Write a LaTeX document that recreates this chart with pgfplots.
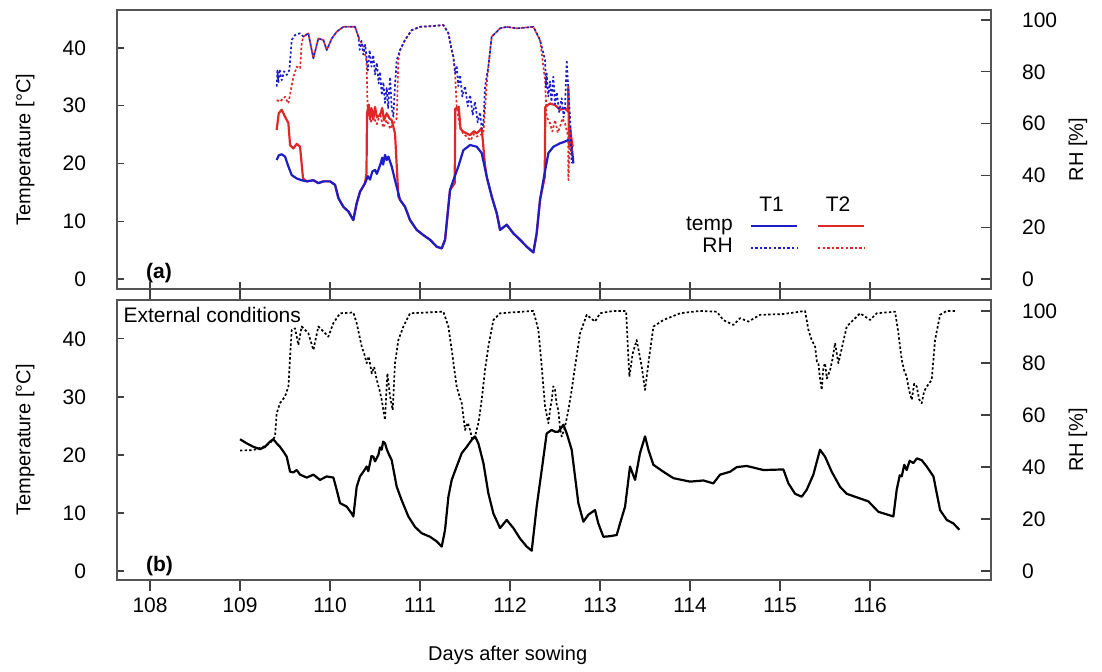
\documentclass[border=0pt]{standalone}
\usepackage{fontspec}
\setmainfont{Liberation Sans}
\usepackage{pgfplots}
\pgfplotsset{compat=1.18}
\definecolor{tblue}{RGB}{30,30,200}
\definecolor{tred}{RGB}{225,40,40}
\definecolor{frame}{RGB}{85,85,85}
\newcommand{\fs}{\fontsize{10.5}{12.6}\selectfont}
\tikzset{
  solidT/.style={line width=1.1pt, line join=round},
  dotRH/.style={line width=0.85pt, dash pattern=on 1.2pt off 1.1pt, line join=round},
}
\pgfplotsset{
  base/.style={scale only axis, width=437pt, xmin=107.633, xmax=117.344,
    axis line style={frame, line width=0.8pt},
    tick style={black!75, line width=0.6pt},
    tick label style={font=\fs},
    label style={font=\fs},
    /pgf/number format/assume math mode=true,
    /pgf/number format/1000 sep={},
    tick align=inside, major tick length=3.5pt},
  leftT/.style={ytick={0,10,20,30,40}, ytick pos=left,
    yticklabel style={xshift=-12pt},
    ylabel={Temperature [°C]},
    every axis y label/.style={at={(axis description cs:-0.105,0.5)}, rotate=90, anchor=center}},
  rightRH/.style={axis y line*=right, axis x line=none, ytick={0,20,40,60,80,100},
    yticklabel style={xshift=12pt}, major tick length=5pt,
    ylabel={RH [\%]},
    every axis y label/.style={at={(axis description cs:1.0995,0.5)}, rotate=90, anchor=center}},
}
\begin{document}
\begin{tikzpicture}
\path[use as bounding box] (-58.5pt,-191.5pt) rectangle (492.5pt,144.5pt);
% ---------------- panel (a) temperature ----------------
\begin{axis}[base, leftT, height=139.5pt, at={(0pt,0pt)}, anchor=south west,
  ymin=-1.73, ymax=46.58, xtick={108,...,116}, xtick pos=bottom, xticklabels={}]
\addplot[tred, solid, solidT] coordinates {
(109.407,25.8)(109.43,28.7)(109.463,29.3)(109.5,28.1)(109.537,27.0)(109.556,23.2)(109.593,22.6)(109.63,23.4)(109.667,22.9)(109.70,17.4)
(109.741,16.9)(109.815,17.1)(109.87,16.6)(109.926,16.9)(110.0,16.9)(110.056,16.3)(110.093,14.0)(110.148,12.5)(110.204,11.7)(110.259,10.2)(110.296,13.1)(110.333,15.1)(110.389,16.6)
(110.405,18.3)(110.411,28.7)(110.43,30.2)(110.444,27.8)(110.46,29.6)(110.48,27.6)(110.5,29.8)(110.52,28.0)(110.556,28.4)(110.58,29.6)(110.6,27.5)(110.63,28.7)(110.66,27.8)(110.685,27.5)(110.722,25.2)(110.759,14.3)
(110.778,13.7)(110.833,12.5)(110.889,10.2)(110.963,8.5)(111.037,7.6)(111.111,6.8)(111.185,5.6)(111.241,5.3)(111.278,6.8)(111.333,15.4)(111.385,16.6)
(111.392,29.5)(111.43,29.8)(111.45,26.0)(111.48,25.5)(111.52,25.2)(111.556,24.9)(111.6,25.6)(111.63,25.2)(111.685,26.1)(111.72,20.0)(111.741,17.7)
(111.796,14.3)(111.852,11.4)(111.889,8.5)(111.963,9.4)(112.037,7.9)(112.111,6.8)(112.185,5.6)(112.259,4.6)(112.296,7.9)(112.333,13.7)(112.385,17.6)
(112.392,29.8)(112.444,30.4)(112.5,30.1)(112.556,29.3)(112.611,29.6)(112.643,29.0)(112.648,33.3)(112.655,22.9)(112.667,26.4)(112.68,24.5)(112.696,22.9)};
\addplot[tblue, solid, solidT] coordinates {
(109.407,20.6)(109.43,21.4)(109.463,21.6)(109.5,21.2)(109.537,19.5)(109.574,18.0)(109.63,17.4)(109.685,17.1)(109.741,16.9)(109.815,17.1)(109.87,16.6)(109.926,16.9)(110.0,16.9)(110.056,16.3)(110.093,14.0)(110.148,12.5)(110.204,11.7)(110.259,10.2)(110.296,13.1)(110.333,15.1)(110.389,16.6)(110.42,17.8)(110.444,17.2)(110.47,18.6)(110.5,18.9)(110.52,18.2)(110.556,19.7)(110.58,21.0)(110.59,19.8)(110.611,21.5)(110.63,20.6)(110.648,21.2)(110.685,19.5)(110.722,17.1)(110.778,13.7)(110.833,12.5)(110.889,10.2)(110.963,8.5)(111.037,7.6)(111.111,6.8)(111.185,5.6)(111.241,5.3)(111.278,6.8)(111.333,15.4)(111.37,17.1)(111.426,19.5)(111.481,22.3)(111.556,23.2)(111.63,22.9)(111.685,21.8)(111.741,17.7)(111.796,14.3)(111.852,11.4)(111.889,8.5)(111.963,9.4)(112.037,7.9)(112.111,6.8)(112.185,5.6)(112.259,4.6)(112.296,7.9)(112.333,13.7)(112.37,17.1)(112.426,21.8)(112.481,22.9)(112.556,23.5)(112.611,23.8)(112.648,24.1)(112.685,22.9)(112.704,20.0)};
\node[anchor=base west, font=\fs\bfseries] at (rel axis cs:0.0252,0.039) {(a)};
\end{axis}
% ---------------- panel (a) RH ----------------
\begin{axis}[base, rightRH, height=139.5pt, at={(0pt,0pt)}, anchor=south west,
  ymin=-3.86, ymax=103.9]
\addplot[tred, dotRH] coordinates {
(109.407,69.1)(109.444,68.5)(109.5,70.4)(109.537,67.8)(109.593,78.1)(109.63,82)(109.667,81.3)(109.685,91)(109.704,93.6)(109.759,94.9)(109.815,85.2)(109.87,92.9)(109.926,92.3)(109.963,88.4)(110.019,92.9)(110.074,95.5)(110.148,97.4)(110.278,97.4)(110.315,93.6)(110.37,89.7)(110.40,85.2)(110.407,82)(110.417,66.5)(110.45,60.5)(110.481,62.7)(110.52,59.8)(110.556,64)(110.59,58.5)(110.63,61.4)(110.67,58.0)(110.704,60.1)(110.741,62)(110.759,84.6)(110.778,88.4)(110.833,92.3)(110.907,96.1)(111.0,97.4)(111.148,97.7)(111.259,98.1)(111.315,94.9)(111.37,85.8)(111.389,80)(111.407,66.5)(111.444,58.8)(111.48,56.0)(111.519,55)(111.56,53.5)(111.6,56.0)(111.63,55)(111.704,56.2)(111.741,75.5)(111.759,82)(111.796,93.6)(111.852,95.5)(111.889,96.8)(111.963,97.4)(112.074,96.8)(112.259,97.4)(112.333,92.3)(112.389,76.8)(112.407,62.7)(112.444,60.1)(112.47,57.0)(112.5,61.4)(112.53,56.5)(112.556,58.8)(112.58,62.0)(112.611,60.1)(112.645,55)(112.648,38.2)(112.667,56.2)(112.68,48.0)(112.696,52.4)};
\addplot[tblue, dotRH] coordinates {
(109.407,74.3)(109.415,80.5)(109.426,76)(109.44,81)(109.463,76.8)(109.49,80.2)(109.519,78.8)(109.548,80.7)(109.574,92.3)(109.611,94.2)(109.667,94.9)(109.704,93.6)(109.759,94.9)(109.815,85.2)(109.87,92.9)(109.926,92.3)(109.963,88.4)(110.019,92.9)(110.074,95.5)(110.148,97.4)(110.278,97.4)(110.315,93.6)(110.33,88.5)(110.35,92.0)(110.37,86.7)(110.39,90.5)(110.407,85.2)(110.42,80.5)(110.44,88.4)(110.46,82.0)(110.48,86.5)(110.5,79)(110.52,83.5)(110.54,75.5)(110.556,80)(110.575,71)(110.593,76)(110.61,68)(110.63,74)(110.645,66)(110.667,78)(110.685,66)(110.704,62.7)(110.72,74)(110.741,84.6)(110.778,88.4)(110.833,92.3)(110.907,96.1)(111.0,97.4)(111.148,97.7)(111.259,98.1)(111.315,94.9)(111.35,88.5)(111.37,85.8)(111.39,79.5)(111.407,82.5)(111.425,74.5)(111.444,78.8)(111.47,70.5)(111.5,74.5)(111.53,66.7)(111.556,71.1)(111.585,63.5)(111.611,68.5)(111.64,60.5)(111.667,64.4)(111.685,58.0)(111.704,60.1)(111.722,74.3)(111.759,82)(111.796,93.6)(111.852,95.5)(111.889,96.8)(111.963,97.4)(112.074,96.8)(112.259,97.4)(112.333,92.3)(112.389,84.6)(112.40,74)(112.407,79.4)(112.425,70.5)(112.444,76.3)(112.46,68.5)(112.481,78.1)(112.5,67.5)(112.519,72.1)(112.545,64.5)(112.574,69.8)(112.595,62.5)(112.611,66.5)(112.630,84.6)(112.648,73)(112.667,62.7)(112.685,44.7)};
\draw[tblue, line width=1.1pt] (rel axis cs:0.725,0.226) -- (rel axis cs:0.778,0.226);
\draw[tred, line width=1.1pt] (rel axis cs:0.802,0.226) -- (rel axis cs:0.855,0.226);
\draw[tblue, dotRH] (rel axis cs:0.725,0.147) -- (rel axis cs:0.778,0.147);
\draw[tred, dotRH] (rel axis cs:0.802,0.147) -- (rel axis cs:0.855,0.147);
\node[anchor=base, font=\fs] at (rel axis cs:0.749,0.276) {T1};
\node[anchor=base, font=\fs] at (rel axis cs:0.825,0.276) {T2};
\node[anchor=base east, font=\fs, inner sep=0pt] at (rel axis cs:0.705,0.211) {temp};
\node[anchor=base east, font=\fs, inner sep=0pt] at (rel axis cs:0.705,0.129) {RH};
\end{axis}
% ---------------- panel (b) temperature ----------------
\begin{axis}[base, leftT, height=140pt, at={(0pt,-5.5pt)}, anchor=north west,
  ymin=-1.55, ymax=46.7, xtick=\empty]
\addplot[black, solid, solidT] coordinates {
(109.0,22.7)(109.074,22.0)(109.148,21.4)(109.222,21.0)(109.278,21.4)(109.333,22.3)(109.37,22.7)(109.407,22.0)(109.444,21.4)(109.481,20.6)(109.519,19.7)(109.556,17.1)(109.593,17.0)(109.63,17.4)(109.667,16.6)(109.741,16.1)(109.815,16.6)(109.889,15.7)(109.963,16.3)(110.037,16.1)(110.074,14.0)(110.111,11.7)(110.185,11.1)(110.241,9.9)(110.259,9.4)(110.296,14.5)(110.333,16.3)(110.37,17.1)(110.407,18.0)(110.425,17.2)(110.444,18.6)(110.46,19.8)(110.481,19.7)(110.5,18.9)(110.537,20.0)(110.555,21.3)(110.574,20.9)(110.59,22.3)(110.611,22.0)(110.63,21.0)(110.648,20.3)(110.685,19.1)(110.741,14.5)(110.796,12.2)(110.87,9.4)(110.944,7.6)(111.019,6.5)(111.111,5.9)(111.185,5.1)(111.241,4.2)(111.278,7.1)(111.315,12.8)(111.352,15.7)(111.407,18.0)(111.463,20.3)(111.519,21.4)(111.574,22.6)(111.611,23.2)(111.648,22.0)(111.704,18.6)(111.759,13.4)(111.815,9.9)(111.889,7.4)(111.963,8.8)(112.037,7.4)(112.111,5.6)(112.185,4.2)(112.241,3.5)(112.296,11.1)(112.352,17.4)(112.407,23.7)(112.463,24.3)(112.5,24.0)(112.537,24.0)(112.593,25.2)(112.63,23.7)(112.685,20.9)(112.722,16.3)(112.759,11.7)(112.815,8.5)(112.87,9.7)(112.944,10.5)(112.981,8.2)(113.037,5.9)(113.111,6.0)(113.185,6.2)(113.222,8.2)(113.278,11.1)(113.333,18.0)(113.389,15.7)(113.444,20.3)(113.5,23.2)(113.537,20.9)(113.593,18.3)(113.704,17.1)(113.815,16.0)(114.0,15.4)(114.148,15.6)(114.259,15.1)(114.333,16.6)(114.444,17.1)(114.519,17.9)(114.63,18.1)(114.815,17.4)(115.037,17.5)(115.093,15.1)(115.167,13.3)(115.241,12.8)(115.296,14.0)(115.37,16.6)(115.444,20.9)(115.5,19.7)(115.574,17.1)(115.667,14.5)(115.741,13.3)(115.889,12.5)(115.981,12.0)(116.093,10.2)(116.259,9.4)(116.296,14.0)(116.33,16.5)(116.352,16.3)(116.38,18.3)(116.407,17.4)(116.44,19.0)(116.481,18.6)(116.52,19.4)(116.574,19.1)(116.63,18.0)(116.704,16.3)(116.778,10.5)(116.852,8.8)(116.926,8.2)(116.993,7.1)};
\node[anchor=base west, font=\fs\bfseries] at (rel axis cs:0.0252,0.029) {(b)};
\node[anchor=base west, font=\fs, inner sep=0pt] at (rel axis cs:0.007,0.921) {External conditions};
\end{axis}
% ---------------- panel (b) RH ----------------
\begin{axis}[base, rightRH, height=140pt, at={(0pt,-5.5pt)}, anchor=north west,
  ymin=-3.46, ymax=104.2]
\addplot[black, dotRH] coordinates {
(109.0,46.3)(109.148,46.5)(109.259,47.8)(109.333,49.1)(109.389,51.7)(109.407,60.6)(109.444,64.5)(109.5,67.1)(109.537,70.9)(109.574,92.7)(109.611,93.3)(109.648,86.9)(109.685,94.0)(109.759,91.4)(109.815,85.0)(109.87,94.0)(109.926,92.1)(109.981,90.1)(110.037,95.3)(110.111,99.1)(110.259,99.4)(110.296,95.3)(110.352,86.3)(110.38,83.5)(110.407,79.9)(110.43,82.5)(110.463,76.0)(110.49,78.5)(110.519,73.5)(110.55,69.5)(110.574,65.8)(110.59,62.5)(110.611,58.1)(110.637,76.0)(110.667,67.1)(110.696,61.9)(110.722,79.9)(110.759,88.8)(110.815,94.0)(110.889,99.1)(111.259,99.7)(111.315,94.0)(111.352,85.0)(111.407,70.9)(111.435,67.5)(111.463,64.5)(111.48,60.0)(111.5,54.2)(111.53,57.0)(111.556,54.2)(111.58,50.5)(111.611,51.7)(111.648,56.8)(111.685,65.8)(111.722,77.3)(111.759,86.3)(111.815,96.5)(111.889,99.1)(112.259,100)(112.315,92.7)(112.352,78.6)(112.389,63.2)(112.426,56.8)(112.445,62.0)(112.463,65.8)(112.48,71.0)(112.5,69.6)(112.52,63.5)(112.537,61.9)(112.555,55.0)(112.574,51.7)(112.611,55.5)(112.648,61.9)(112.685,69.6)(112.722,78.6)(112.778,91.4)(112.852,98.5)(112.944,95.9)(113.0,99.1)(113.148,100)(113.289,100)(113.326,74.7)(113.363,83.7)(113.407,88.8)(113.463,78.6)(113.5,69.6)(113.537,79.9)(113.593,94.0)(113.704,96.5)(113.889,99.1)(114.111,100)(114.296,99.7)(114.37,96.5)(114.481,94.6)(114.556,97.2)(114.648,95.9)(114.778,98.5)(115.037,98.8)(115.278,100)(115.315,92.7)(115.35,89.0)(115.389,86.3)(115.41,80.5)(115.426,79.9)(115.44,75.0)(115.463,69.6)(115.48,78.0)(115.5,79.9)(115.52,74.0)(115.556,77.3)(115.58,81.0)(115.611,87.6)(115.648,79.9)(115.741,94.0)(115.889,99.1)(116.0,96.5)(116.074,99.1)(116.278,99.7)(116.315,91.4)(116.352,81.2)(116.38,77.0)(116.407,74.7)(116.43,70.0)(116.463,65.8)(116.49,72.0)(116.519,70.9)(116.545,66.0)(116.574,64.5)(116.6,69.0)(116.63,70.9)(116.685,73.5)(116.722,88.8)(116.778,98.5)(116.852,100)(116.963,100)};
\end{axis}
% ---------------- panel (b) x ticks ----------------
\begin{axis}[base, height=140pt, at={(0pt,-5.5pt)}, anchor=north west,
  ymin=0, ymax=1, ytick=\empty, xtick={108,...,116}, xtick pos=both, xticklabel pos=bottom,
  tick align=outside, major tick length=5.5pt,
  xlabel={Days after sowing},
  every axis x label/.style={at={(axis description cs:0.447,-0.268)}, anchor=center}]
\end{axis}
\end{tikzpicture}
\end{document}
